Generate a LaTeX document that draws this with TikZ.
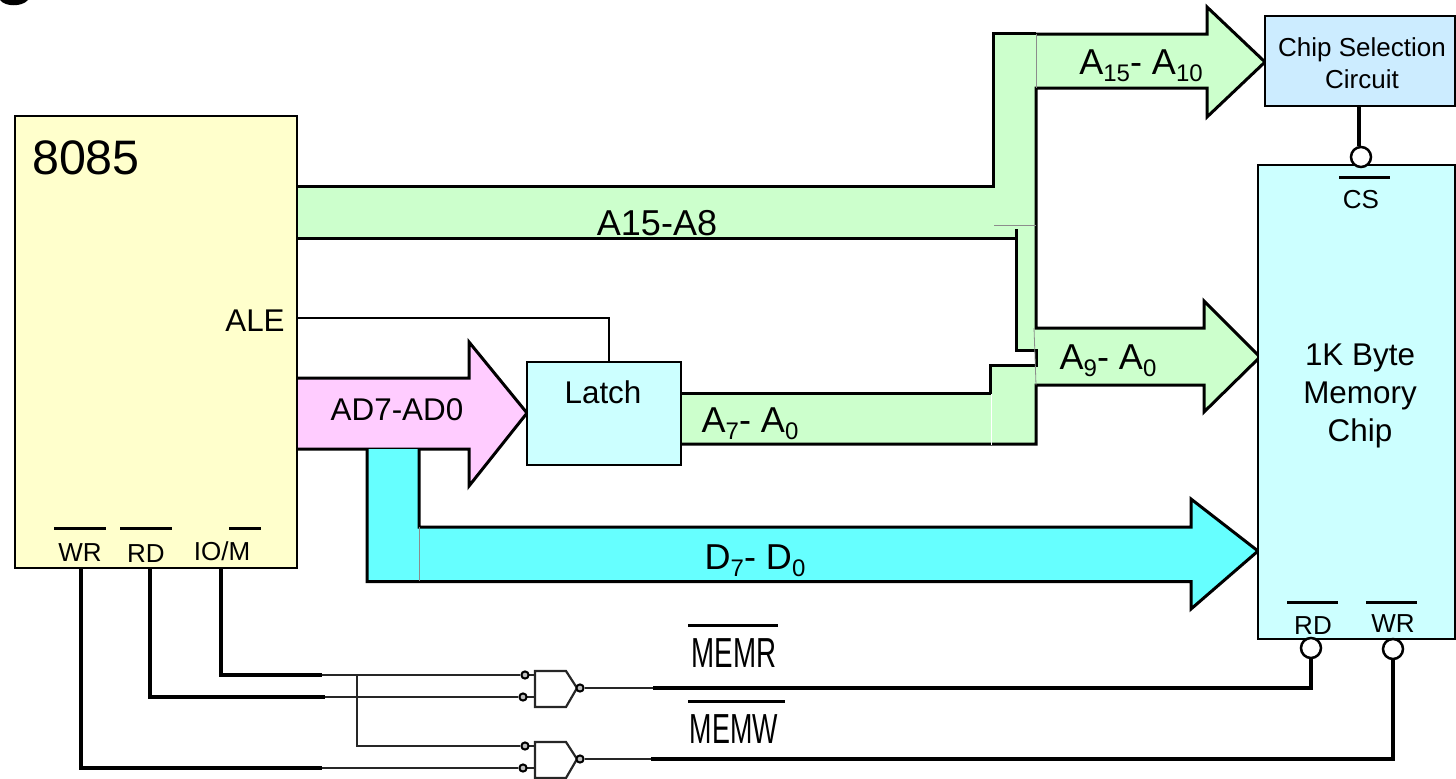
\documentclass[tikz,border=0pt]{standalone}
\usepackage{graphicx}
\usepackage{fontspec}
\setmainfont{Liberation Sans}
\definecolor{cpufill}{HTML}{FFFFCC}
\definecolor{addrfill}{HTML}{CCFFCC}
\definecolor{muxfill}{HTML}{FFCCFF}
\definecolor{datafill}{HTML}{66FFFF}
\definecolor{memfill}{HTML}{CCFFFF}
\definecolor{csfill}{HTML}{CCECFF}
\newcommand{\busidx}[1]{\raisebox{-3.5pt}{\fontsize{12}{14}\selectfont #1}}
\tikzset{
    box/.style={draw,line width=1.4pt,inner sep=0pt},
    lbl/.style={anchor=base,inner sep=0pt,font=\fontsize{15.7}{19}\selectfont},
    buslbl/.style={anchor=base,inner sep=0pt,font=\fontsize{18}{22}\selectfont},
    pinlbl/.style={anchor=base,inner sep=0pt,font=\fontsize{13}{16}\selectfont},
    busline/.style={line width=1.5pt,line join=miter},
    seam/.style={line width=0.4pt,black!45},
    bar/.style={line width=1.5pt},
    wire/.style={line width=2pt},
    gatewire/.style={line width=1.1pt,black!85},
    bubble/.style={circle,draw,fill=white,line width=1.25pt,minimum size=10pt,inner sep=0pt},
    gatebub/.style={circle,draw,fill=black!25,line width=1pt,minimum size=3.6pt,inner sep=0pt},
    pics/gate/.style={code={
        \draw[gatewire] (0,0) -- (31,0) -- (42,17) -- (31,36) -- (0,36) -- cycle;
        \draw[gatewire] (-10,4) -- (0,4);
        \draw[gatewire] (-12,26) -- (0,26);
        \node[gatebub] (-a) at (-10,4) {};
        \node[gatebub] (-b) at (-12,26) {};
        \node[gatebub] (-out) at (45,17) {};
    }},
}
\begin{document}
\begin{tikzpicture}[x=0.5pt,y=-0.5pt]
    \useasboundingbox (0,0) rectangle (1456,778);
    \fill (0,0) .. controls (5,7) and (22,7) .. (28,0) -- cycle;

    \fill[addrfill] (297,186) -- (993,186) -- (993,33) -- (1036,33) -- (1036,34) -- (1207,34) -- (1207,7)
        -- (1265,62) -- (1207,117) -- (1207,88) -- (1036,88) -- (1036,328) -- (1204,328) -- (1204,301)
        -- (1260,357) -- (1204,412) -- (1204,385) -- (1036,385) -- (1036,444) -- (681,444) -- (681,393)
        -- (990,393) -- (990,365) -- (1036,365) -- (1036,350) -- (1016,350) -- (1016,238) -- (297,238) -- cycle;
    \draw[busline] (297,186) -- (993,186) -- (993,33) -- (1036,33);
    \draw[busline] (1036,34) -- (1207,34) -- (1207,7) -- (1265,62) -- (1207,117) -- (1207,88) -- (1036,88)
        -- (1036,328) -- (1204,328) -- (1204,301) -- (1260,357) -- (1204,412) -- (1204,385) -- (1036,385)
        -- (1036,444) -- (681,444);
    \draw[busline] (681,393) -- (990,393) -- (990,365) -- (1036,365) -- (1036,350) -- (1016,350) -- (1016,229);
    \draw[busline] (1016,238) -- (297,238);
    \draw[seam] (1036,34) -- (1036,88);
    \draw[seam] (994,225) -- (1036,225);
    \draw[seam] (1034,328) -- (1036,385);
    \draw[white,line width=0.5pt] (991,394) -- (991,445);

    \filldraw[fill=muxfill,busline] (297,378) -- (469,378) -- (469,342) -- (527,413) -- (469,486) -- (469,449) -- (297,449);
    \fill[datafill] (367,449) -- (419,449) -- (419,527) -- (1191,527) -- (1191,499) -- (1258,551) -- (1191,609) -- (1191,581.5) -- (367,581.5) -- cycle;
    \draw[busline] (367,449) -- (367,581.5) -- (1191,581.5) -- (1191,609) -- (1258,551) -- (1191,499) -- (1191,527) -- (419,527) -- (419,449);
    \draw[seam] (419,527) -- (419,581);

    \node[box,fill=cpufill,minimum width=141pt,minimum height=226pt] (cpu) at (156,342) {};
    \node[box,fill=memfill,minimum width=77pt,minimum height=51.5pt] (latch) at (604,413.5) {};
    \node[box,fill=csfill,minimum width=95pt,minimum height=45pt] (chipsel) at (1360,61) {};
    \node[box,fill=memfill,minimum width=98.5pt,minimum height=237pt] (mem) at (1356.5,402) {};

    \node[anchor=base,inner sep=0pt,font=\fontsize{24.2}{28}\selectfont] (cpulbl) at (86,174) {8085};
    \node[lbl] (alelbl) at (255,331) {ALE};
    \node[lbl] (adlbl) at (397,420) {AD7-AD0};
    \node[lbl] (latchlbl) at (603,403) {Latch};
    \node[buslbl] (hilbl) at (657,235) {A15-A8};
    \node[buslbl] (a15lbl) at (1141,74) {A\busidx{15}- A\busidx{10}};
    \node[buslbl] (a9lbl) at (1108,369) {A\busidx{9}- A\busidx{0}};
    \node[buslbl] (a7lbl) at (750,432) {A\busidx{7}- A\busidx{0}};
    \node[buslbl] (dlbl) at (755,569) {D\busidx{7}- D\busidx{0}};
    \node[pinlbl] (cslbl1) at (1362,56) {Chip Selection};
    \node[pinlbl] (cslbl2) at (1362,88) {Circuit};
    \node[lbl] (memlbl1) at (1360,365) {1K Byte};
    \node[lbl] (memlbl2) at (1360,403) {Memory};
    \node[lbl] (memlbl3) at (1360,441) {Chip};

    \node[pinlbl] (wrlbl) at (80,561) {WR};
    \node[pinlbl] (rdlbl) at (146,562) {RD};
    \node[pinlbl] (iolbl) at (222,560) {IO/M};
    \node[pinlbl] (cspin) at (1361,208) {CS};
    \node[pinlbl] (memrdlbl) at (1313,634) {RD};
    \node[pinlbl] (memwrlbl) at (1393,632) {WR};
    \draw[bar] (54,528) -- (106,528);
    \draw[bar] (120,528) -- (172,528);
    \draw[bar] (229,528) -- (261,528);
    \draw[bar] (1339,177) -- (1390,177);
    \draw[bar] (1287,602) -- (1338,602);
    \draw[bar] (1366,602) -- (1417,602);

    \coordinate (alepin) at (297,318);
    \coordinate (latchin) at (609,362);
    \coordinate (wrpin) at (81,568);
    \coordinate (rdpin) at (150,568);
    \coordinate (iopin) at (221,568);
    \coordinate (wrjoin) at (322,768);
    \coordinate (rdjoin) at (325,697);
    \coordinate (iojoin) at (322,675);
    \coordinate (branch) at (357,675);
    \coordinate (memrjoin) at (653,688);
    \coordinate (memwjoin) at (651,759);
    \coordinate (csout) at (1359,106);

    \draw[line width=1.4pt] (alepin) -| (latchin);
    \node[bubble] (csbub) at (1361,157) {};
    \node[bubble] (memrd) at (1311,648) {};
    \node[bubble] (memwr) at (1393,649) {};
    \draw[wire] (csout) -- (csout |- csbub.north);

    \pic (nandr) at (535,671) {gate};
    \pic (nandw) at (535,742) {gate};
    \draw[wire] (iopin) |- (iojoin);
    \draw[wire] (rdpin) |- (rdjoin);
    \draw[wire] (wrpin) |- (wrjoin);
    \draw[gatewire] (iojoin) -- (nandr-a);
    \draw[gatewire] (rdjoin) -- (nandr-b);
    \draw[gatewire] (branch) |- (nandw-a);
    \draw[gatewire] (wrjoin) -- (nandw-b);
    \draw[gatewire] (nandr-out) -- (memrjoin);
    \draw[gatewire] (nandw-out) -- (memwjoin);
    \draw[wire] (memrjoin) -| (memrd.south);
    \draw[wire] (memwjoin) -| (memwr.south);

    \node[anchor=base,inner sep=0pt,font=\fontsize{21}{25}\selectfont] (memrlbl) at (734,667) {\scalebox{.66}[1]{MEMR}};
    \node[anchor=base,inner sep=0pt,font=\fontsize{21}{25}\selectfont] (memwlbl) at (734,743) {\scalebox{.64}[1]{MEMW}};
    \draw[bar] (688,625) -- (778,625);
    \draw[bar] (688,701) -- (785,701);
\end{tikzpicture}
\end{document}
